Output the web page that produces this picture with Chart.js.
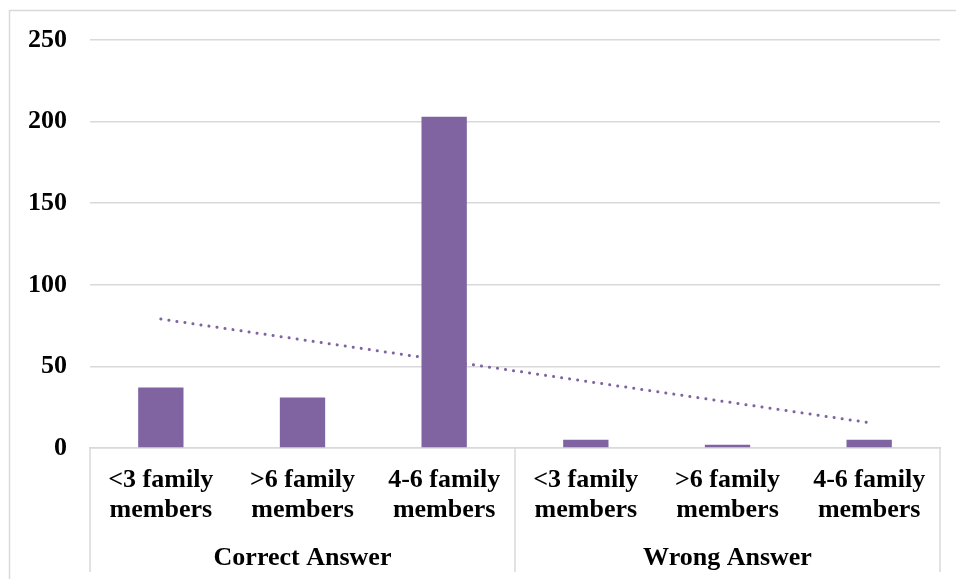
<!DOCTYPE html>
<html>
<head>
  <title>Family members vs answer</title>
  <script src="https://cdn.jsdelivr.net/npm/chart.js"></script>
  <style>
    body { margin: 0; background: #fff; }
  </style>
</head>
<body>
  <canvas id="chart" width="956" height="579"></canvas>
  <script>
    // donnees
    const categories = [
      ['<3 family', 'members'], ['>6 family', 'members'], ['4-6 family', 'members'],
      ['<3 family', 'members'], ['>6 family', 'members'], ['4-6 family', 'members']
    ];
    const groups = ['Correct Answer', 'Wrong Answer'];
    const counts = [37, 31, 203, 5, 2, 5];
    // tendance lineaire : seulement les deux bouts
    const trend = [79, null, null, null, null, 15.5];
    const yTicks = [0, 50, 100, 150, 200, 250];

    const purple = '#8064A2';
    const gray = '#d9d9d9';
    const font = { family: '"Liberation Serif", "Times New Roman", serif', size: 26, weight: 'bold', lineHeight: 1.15 };

    // cadre exterieur + separateurs des groupes
    const frame = {
      id: 'frame',
      beforeDraw(chart) {
        const c = chart.ctx;
        c.save();
        c.strokeStyle = gray;
        c.lineWidth = 1.5;
        c.strokeRect(9.5, 10.5, 960, 600);
        c.restore();
      },
      afterDraw(chart) {
        const c = chart.ctx, x = chart.scales.x, a = chart.chartArea;
        const mid = (x.getPixelForValue(2) + x.getPixelForValue(3)) / 2;
        c.save();
        c.strokeStyle = gray;
        c.lineWidth = 1.5;
        c.beginPath();
        for (const px of [a.left, mid, a.right]) {
          c.moveTo(px, a.bottom);
          c.lineTo(px, 572);
        }
        c.stroke();
        c.restore();
      }
    };

    const ctx = document.getElementById('chart').getContext('2d');
    const chart = new Chart(ctx, {
      type: 'bar',
      data: {
        labels: categories,
        datasets: [{
          type: 'line',
          data: trend,
          spanGaps: true,
          borderColor: purple,
          borderWidth: 3,
          borderDash: [0.1, 8],
          borderCapStyle: 'round',
          pointRadius: 0,
          fill: false
        }, {
          data: counts,
          backgroundColor: purple,
          barPercentage: 0.32,
          categoryPercentage: 1
        }]
      },
      plugins: [frame],
      options: {
        responsive: false,
        animation: false,
        layout: { padding: { top: 40, right: 16 } },
        plugins: { legend: { display: false }, tooltip: { enabled: false } },
        scales: {
          x: {
            grid: { display: false },
            border: { color: gray, width: 1.5 },
            ticks: { color: '#000', font: font, padding: 9, maxRotation: 0, autoSkip: false },
            afterFit(s) { s.height = 84; }
          },
          x2: {
            type: 'category',
            labels: groups,
            position: 'bottom',
            weight: 1,
            offset: true,
            grid: { display: false },
            border: { display: false },
            ticks: { color: '#000', font: font, padding: 3, maxRotation: 0 },
            afterFit(s) { s.height = 47; }
          },
          y: {
            min: 0,
            max: 250,
            afterBuildTicks(s) { s.ticks = yTicks.map(v => ({ value: v })); },
            grid: { color: gray, lineWidth: 1.5, drawTicks: false },
            border: { display: false },
            ticks: { color: '#000', font: font, padding: 23 },
            afterFit(s) { s.width = 90; }
          }
        }
      }
    });
  </script>
</body>
</html>
